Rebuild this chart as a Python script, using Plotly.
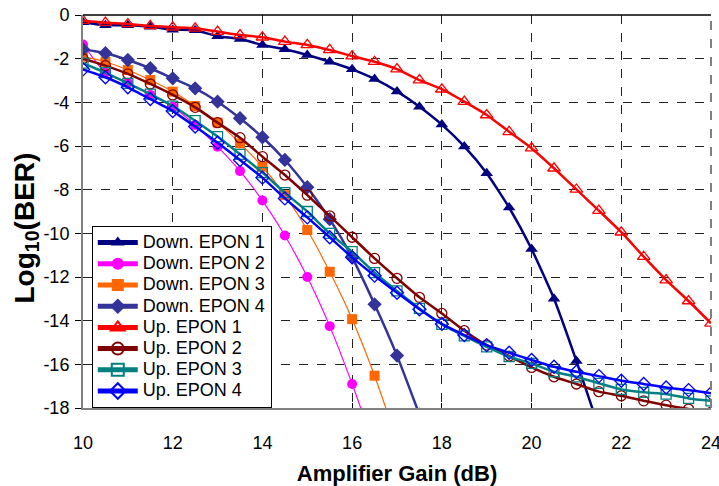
import plotly.graph_objects as go

gain = [10, 10.5, 11, 11.5, 12, 12.5, 13, 13.5, 14, 14.5, 15, 15.5, 16, 16.5, 17,
        17.5, 18, 18.5, 19, 19.5, 20, 20.5, 21, 21.5, 22, 22.5, 23, 23.5, 24]

down_epon1 = [-0.33, -0.47, -0.47, -0.54, -0.67, -0.7, -0.97, -1.1, -1.37, -1.57, -1.83, -2.14,
              -2.49, -2.93, -3.5, -4.2, -5.02, -6.02, -7.25, -8.82, -10.72, -13.0, -15.85, -18.9]
down_epon2 = [-1.35, -2.64, -3.1, -3.66, -4.2, -5.04, -6.03, -7.15, -8.5, -10.1, -12.0, -14.25,
              -16.9, -19.8]
down_epon3 = [-1.91, -2.14, -2.52, -2.98, -3.51, -4.17, -4.93, -5.88, -6.95, -8.25, -9.85, -11.76,
              -13.93, -16.52, -19.5]
down_epon4 = [-1.57, -1.75, -2.06, -2.44, -2.9, -3.36, -3.97, -4.73, -5.6, -6.64, -7.89, -9.35,
              -11.1, -13.25, -15.6, -18.3]
up_epon1 = [-0.26, -0.35, -0.41, -0.5, -0.56, -0.61, -0.76, -0.92, -1.02, -1.22, -1.37, -1.6,
            -1.88, -2.14, -2.48, -2.98, -3.4, -3.97, -4.58, -5.35, -6.1, -7.02, -7.99, -8.96,
            -9.95, -11.07, -12.14, -13.1, -14.12]
up_epon2 = [-2.0, -2.32, -2.7, -3.16, -3.66, -4.23, -4.93, -5.62, -6.49, -7.33, -8.25, -9.2,
            -10.18, -11.15, -12.06, -12.93, -13.67, -14.46, -15.12, -15.62, -16.14, -16.57,
            -16.9, -17.25, -17.44, -17.67, -17.87, -18.05, -18.2]
up_epon3 = [-2.2, -2.64, -3.13, -3.62, -4.17, -4.84, -5.57, -6.38, -7.22, -8.14, -9.0, -10.0,
            -10.84, -11.8, -12.64, -13.44, -14.17, -14.7, -15.2, -15.65, -15.96, -16.34, -16.57,
            -16.87, -17.15, -17.28, -17.36, -17.56, -17.67]
up_epon4 = [-2.49, -2.85, -3.31, -3.85, -4.4, -5.11, -5.85, -6.64, -7.45, -8.4, -9.27, -10.18,
            -11.1, -11.94, -12.72, -13.48, -14.15, -14.66, -15.12, -15.47, -15.8, -16.11, -16.34,
            -16.54, -16.75, -16.9, -17.06, -17.18, -17.33]

x_ticks = [10, 12, 14, 16, 18, 20, 22, 24]
y_ticks = [0, -2, -4, -6, -8, -10, -12, -14, -16, -18]

series = [
    ("Down. EPON 1", down_epon1, "#000080", 2.5, "triangle-up", 11, 0),
    ("Down. EPON 2", down_epon2, "#FF00FF", 1.2, "circle", 10, 0),
    ("Down. EPON 3", down_epon3, "#FF6600", 1.2, "square", 10, 0),
    ("Down. EPON 4", down_epon4, "#333399", 2.5, "diamond", 11, 0),
    ("Up. EPON 1", up_epon1, "#FF0000", 2.5, "triangle-up-open", 11, 1.3),
    ("Up. EPON 2", up_epon2, "#800000", 2.5, "circle-open", 10, 1.3),
    ("Up. EPON 3", up_epon3, "#008080", 2.5, "square-open", 10, 1.3),
    ("Up. EPON 4", up_epon4, "#0000FF", 2.5, "diamond-open", 10, 1.3),
]

fig = go.Figure()
for name, vals, color, lw, sym, msize, mlw in series:
    fig.add_trace(go.Scatter(
        x=gain[:len(vals)], y=vals,
        name='<span style="font-size:18px">' + name + '</span>',
        mode="lines+markers",
        line=dict(color=color, width=lw, shape="spline", smoothing=0.5),
        marker=dict(symbol=sym, size=msize, color=color,
                    line=dict(color=color, width=mlw)),
    ))

font_family = "Liberation Sans, Arial, sans-serif"

fig.update_layout(
    width=719, height=486,
    margin=dict(l=83, r=8, t=15, b=78),
    paper_bgcolor="white", plot_bgcolor="white",
    font=dict(family=font_family, size=18, color="black"),
    showlegend=True,
    legend=dict(
        x=0.014, y=0, xanchor="left", yanchor="bottom",
        bgcolor="white", bordercolor="black", borderwidth=1,
        font=dict(size=14, family=font_family, color="black"),
        tracegroupgap=0, itemsizing="constant", itemwidth=40,
    ),
    xaxis=dict(
        range=[10, 24], tickvals=x_ticks, ticktext=[str(v) for v in x_ticks],
        showgrid=True, gridcolor="#222222", griddash="dash", gridwidth=1,
        zeroline=False, showline=True, linecolor="#808080", linewidth=2,
        ticks="inside", ticklen=5, tickcolor="black", automargin=False,
        tickfont=dict(size=18), ticklabelstandoff=17, ticklabeloverflow="allow",
        title=dict(text="<b>Amplifier Gain (dB)</b>", font=dict(size=22), standoff=20),
    ),
    yaxis=dict(
        range=[-18, 0], tickvals=y_ticks, ticktext=[str(v) for v in y_ticks],
        showgrid=True, gridcolor="#222222", griddash="dash", gridwidth=1,
        zeroline=False, showline=True, linecolor="#808080", linewidth=2,
        ticks="outside", ticklen=6, tickcolor="black", automargin=False,
        tickfont=dict(size=18), ticklabelstandoff=2, ticklabeloverflow="allow",
    ),
    annotations=[
        dict(text="<b>Log<sub>10</sub>(BER)</b>", textangle=-90, showarrow=False,
             xref="paper", yref="paper", x=0, y=0.5, xanchor="center", yanchor="middle",
             xshift=-57, yshift=-17, font=dict(size=28, family=font_family, color="black")),
    ],
    shapes=[
        dict(type="line", xref="paper", yref="paper", x0=0, x1=1, y0=1, y1=1,
             line=dict(color="black", width=1.5)),
        dict(type="line", xref="paper", yref="paper", x0=1, x1=1, y0=0, y1=1,
             line=dict(color="#808080", width=2, dash="dash")),
    ],
)

# remove the default 8px page margin so the figure fills the window exactly
fig.write_html("out.html", config={"displayModeBar": False},
               post_script="document.body.style.margin='0px';")
